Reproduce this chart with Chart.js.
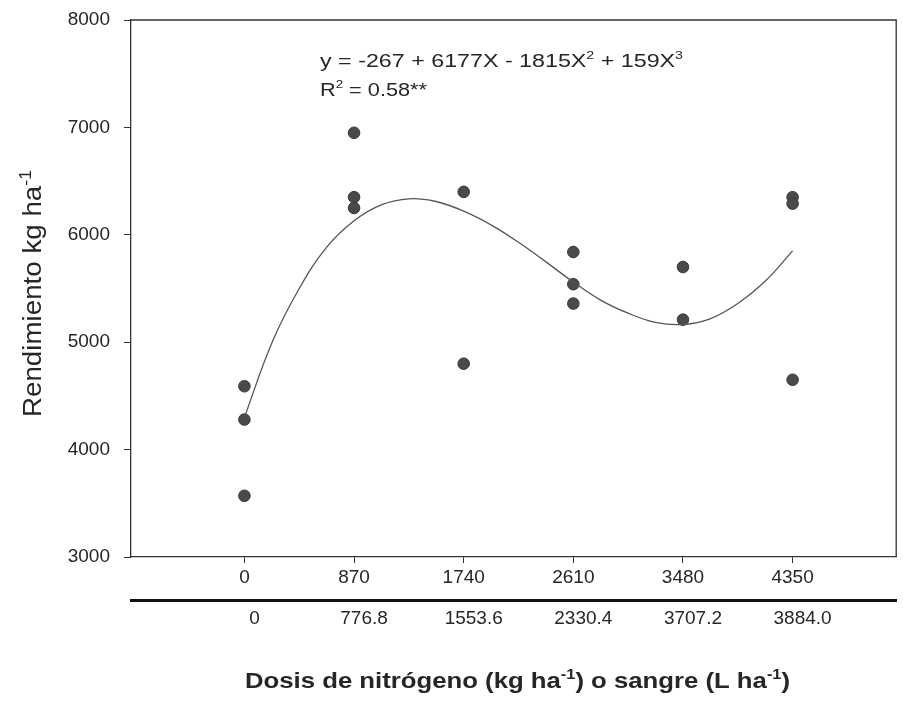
<!DOCTYPE html>
<html>
<head>
<meta charset="utf-8">
<script src="https://cdn.jsdelivr.net/npm/chart.js@4.4.0/dist/chart.umd.min.js"></script>
<style>
  html, body { margin: 0; padding: 0; background: #fff; }
  #wrap { width: 903px; height: 703px; }
</style>
</head>
<body>
<div id="wrap"><canvas id="chart" width="903" height="703"></canvas></div>
<script>
// --- data ---
const nitrogenDoses = [0, 870, 1740, 2610, 3480, 4350];
const bloodDoses = ['0', '776.8', '1553.6', '2330.4', '3707.2', '3884.0'];
const yTicks = [3000, 4000, 5000, 6000, 7000, 8000];

// observed yields (kg/ha)
const obsDose = [0, 0, 0, 870, 870, 870, 1740, 1740, 2610, 2610, 2610, 3480, 3480, 4350, 4350, 4350];
const obsYield = [4590, 4280, 3570, 6950, 6350, 6250, 6400, 4800, 5840, 5540, 5360, 5700, 5210, 6350, 6290, 4650];

// fitted curve
const fitDose = [0, 220, 435, 650, 870, 1090, 1305, 1520, 1740, 1960, 2175, 2390, 2610, 2830, 3045, 3260, 3480, 3700, 3915, 4130, 4350];
const fitYield = [4300, 5000, 5500, 5880, 6130, 6280, 6335, 6310, 6220, 6090, 5930, 5750, 5560, 5390, 5270, 5185, 5165, 5220, 5360, 5565, 5850];

const FONT = '"Liberation Sans", Arial, sans-serif';
const INK = '#262626';

// draws text runs (with superscripts), squeezed/stretched to a target width
function drawRuns(ctx, runs, size, weight, targetWidth) {
  const supSize = Math.round(size * 0.62);
  let w = 0;
  runs.forEach(r => {
    ctx.font = `${weight} ${r.sup ? supSize : size}px ${FONT}`;
    r.w = ctx.measureText(r.t).width;
    w += r.w;
  });
  const sx = targetWidth ? targetWidth / w : 1;
  ctx.scale(sx, 1);
  let x = 0;
  runs.forEach(r => {
    ctx.font = `${weight} ${r.sup ? supSize : size}px ${FONT}`;
    ctx.fillText(r.t, x, r.sup ? -size * 0.42 : 0);
    x += r.w;
  });
  return w * sx;
}

const textPlugin = {
  id: 'annotations',
  afterDraw(chart) {
    const { ctx, chartArea } = chart;

    // top + right frame
    ctx.save();
    ctx.strokeStyle = '#333';
    ctx.lineWidth = 1.3;
    ctx.beginPath();
    ctx.moveTo(chartArea.left, chartArea.top);
    ctx.lineTo(chartArea.right, chartArea.top);
    ctx.lineTo(chartArea.right, chartArea.bottom);
    ctx.stroke();
    ctx.restore();

    ctx.save();
    ctx.fillStyle = INK;
    ctx.textBaseline = 'alphabetic';
    ctx.textAlign = 'left';

    // equation
    ctx.save();
    ctx.translate(320, 67);
    drawRuns(ctx, [
      { t: 'y = -267 + 6177X - 1815X' }, { t: '2', sup: true },
      { t: ' + 159X' }, { t: '3', sup: true }
    ], 18, 'normal', 363);
    ctx.restore();

    ctx.save();
    ctx.translate(320, 96);
    drawRuns(ctx, [
      { t: 'R' }, { t: '2', sup: true }, { t: ' = 0.58**' }
    ], 18, 'normal', 107);
    ctx.restore();

    // x title
    ctx.save();
    ctx.translate(245, 688);
    drawRuns(ctx, [
      { t: 'Dosis de nitrógeno (kg ha' }, { t: '-1', sup: true },
      { t: ') o sangre (L ha' }, { t: '-1', sup: true }, { t: ')' }
    ], 22, 'bold', 545);
    ctx.restore();

    // y title
    ctx.save();
    ctx.translate(41, 417);
    ctx.rotate(-Math.PI / 2);
    drawRuns(ctx, [
      { t: 'Rendimiento kg ha' }, { t: '-1', sup: true }
    ], 25, 'normal', 247);
    ctx.restore();

    ctx.restore();
  }
};

const setDoseTicks = scale => {
  scale.ticks = nitrogenDoses.map(v => ({ value: v }));
};

new Chart(document.getElementById('chart').getContext('2d'), {
  type: 'scatter',
  data: {
    datasets: [
      {
        label: 'ajuste',
        type: 'line',
        data: fitDose.map((d, i) => ({ x: d, y: fitYield[i] })),
        borderColor: '#555',
        borderWidth: 1.3,
        pointRadius: 0,
        fill: false,
        tension: 0.4
      },
      {
        label: 'observado',
        data: obsDose.map((d, i) => ({ x: d, y: obsYield[i] })),
        pointRadius: 5.8,
        backgroundColor: '#4a4a4a',
        borderColor: '#383838',
        borderWidth: 1
      }
    ]
  },
  options: {
    responsive: false,
    animation: false,
    devicePixelRatio: 1,
    layout: { padding: { top: 20, right: 1, left: 0, bottom: 0 } },
    plugins: {
      legend: { display: false },
      tooltip: { enabled: false }
    },
    scales: {
      x: {
        type: 'linear',
        position: 'bottom',
        weight: 0,
        min: -900,
        max: 5172,
        afterBuildTicks: setDoseTicks,
        afterFit: s => { s.height = 43; s.paddingLeft = 0; s.paddingRight = 0; },
        grid: { drawOnChartArea: false, drawTicks: true, tickLength: 6, color: '#333' },
        border: { color: '#333', width: 1.3 },
        ticks: {
          autoSkip: false, maxRotation: 0, padding: 3,
          color: INK, font: { family: FONT, size: 19 },
          callback: v => String(v)
        }
      },
      x2: {
        type: 'linear',
        position: 'bottom',
        weight: 1,
        min: -900,
        max: 5172,
        afterBuildTicks: setDoseTicks,
        afterFit: s => { s.height = 103; s.paddingLeft = 0; s.paddingRight = 0; },
        grid: { display: false, drawTicks: false },
        border: { display: true, color: '#111', width: 3 },
        ticks: {
          autoSkip: false, maxRotation: 0, padding: 7, labelOffset: 10,
          color: INK, font: { family: FONT, size: 19 },
          callback: v => bloodDoses[nitrogenDoses.indexOf(v)]
        }
      },
      y: {
        type: 'linear',
        min: 3000,
        max: 8000,
        afterBuildTicks: s => { s.ticks = yTicks.map(v => ({ value: v })); },
        afterFit: s => { s.width = 131; s.paddingTop = 0; s.paddingBottom = 0; },
        grid: { drawOnChartArea: false, drawTicks: true, tickLength: 7, color: '#333' },
        border: { color: '#333', width: 1.3 },
        ticks: {
          padding: 14,
          color: INK, font: { family: FONT, size: 19 },
          callback: v => String(v)
        }
      }
    }
  },
  plugins: [textPlugin]
});
</script>
</body>
</html>
